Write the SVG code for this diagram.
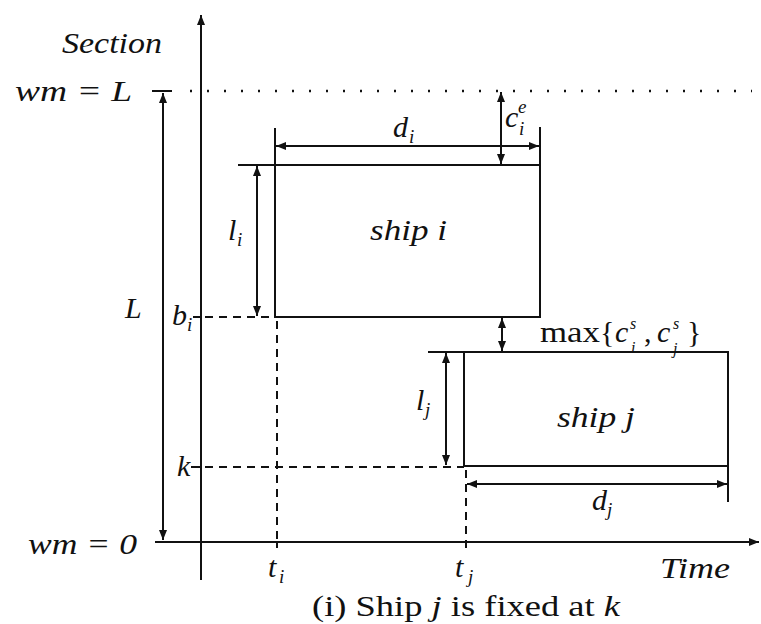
<svg xmlns="http://www.w3.org/2000/svg" width="761" height="624" viewBox="0 0 761 624">
<style>
  text { font-family: "Liberation Serif", "DejaVu Serif", serif; fill: #111; }
  .it { font-style: italic; font-size: 30px; }
  .up { font-size: 30px; }
  .sub { font-style: italic; font-size: 19px; }
  .ss { font-style: italic; font-size: 16px; }
  .ln { stroke: #111; stroke-width: 2; fill: none; }
  .dash { stroke: #111; stroke-width: 2; fill: none; stroke-dasharray: 8 6; }
  .dot { stroke: #111; stroke-width: 2.5; fill: none; stroke-dasharray: 2 15; }
  .arr { stroke: #111; stroke-width: 2; fill: none; marker-start: url(#ah); marker-end: url(#ah); }
  .arr1 { stroke: #111; stroke-width: 2; fill: none; marker-end: url(#ah); }
</style>
<defs>
  <marker id="ah" viewBox="0 0 10 8" refX="10" refY="4" markerWidth="10" markerHeight="8" markerUnits="userSpaceOnUse" orient="auto-start-reverse">
    <path d="M0,0 L10,4 L0,8 Z" fill="#111"/>
  </marker>
</defs>
<rect width="761" height="624" fill="#fff"/>

<g id="axes">
  <line class="arr1" x1="201" y1="580" x2="201" y2="15"/>
  <line class="arr1" x1="155" y1="542" x2="759" y2="542"/>
  <line class="ln" x1="152" y1="91" x2="172" y2="91"/>
  <line class="dot" x1="190" y1="91" x2="752" y2="91"/>
  <text class="it" x="62" y="53" textLength="100" lengthAdjust="spacingAndGlyphs">Section</text>
  <text class="it" x="660" y="578" textLength="70" lengthAdjust="spacingAndGlyphs">Time</text>
  <text class="it" x="15" y="101" textLength="117" lengthAdjust="spacingAndGlyphs">wm = L</text>
  <text class="it" x="28" y="554" textLength="109" lengthAdjust="spacingAndGlyphs">wm = 0</text>
  <text class="it" x="125" y="318">L</text>
</g>

<g id="ship-i">
  <rect class="ln" x="275" y="165" width="265" height="152"/>
  <text class="it" x="370" y="240" textLength="77" lengthAdjust="spacingAndGlyphs">ship i</text>
</g>

<g id="ship-j">
  <rect class="ln" x="464" y="352" width="264" height="114"/>
  <text class="it" x="557" y="427" textLength="78" lengthAdjust="spacingAndGlyphs">ship j</text>
</g>

<g id="connectors">
  <line class="ln" x1="238" y1="165" x2="275" y2="165"/>
  <line class="ln" x1="275" y1="128" x2="275" y2="165"/>
  <line class="ln" x1="540" y1="127" x2="540" y2="165"/>
  <line class="ln" x1="428" y1="352" x2="464" y2="352"/>
  <line class="ln" x1="728" y1="466" x2="728" y2="502"/>
  <line class="arr" x1="163" y1="93" x2="163" y2="540"/>
  <line class="arr" x1="276" y1="146" x2="539" y2="146"/>
  <line class="arr" x1="501" y1="92" x2="501" y2="164"/>
  <line class="arr" x1="257" y1="166" x2="257" y2="316"/>
  <line class="arr" x1="502" y1="318" x2="502" y2="351"/>
  <line class="arr" x1="446" y1="353" x2="446" y2="465"/>
  <line class="arr" x1="467" y1="484" x2="727" y2="484"/>
  <line class="ln" x1="193" y1="317" x2="201" y2="317"/>
  <line class="dash" x1="205" y1="317" x2="275" y2="317"/>
  <line class="dash" x1="277" y1="321" x2="277" y2="542"/>
  <line class="ln" x1="191" y1="467" x2="201" y2="467"/>
  <line class="dash" x1="205" y1="467" x2="464" y2="467"/>
  <line class="dash" x1="466" y1="470" x2="466" y2="542"/>
  <line class="ln" x1="277" y1="542" x2="277" y2="548"/>
  <line class="ln" x1="466" y1="542" x2="466" y2="548"/>
</g>

<g id="labels">
  <text class="it" x="393" y="137">d</text><text class="sub" x="409" y="143">i</text>
  <text class="it" x="505" y="127">c</text><text class="sub" x="518" y="113">e</text><text class="sub" x="519" y="135">i</text>
  <text class="it" x="228" y="240">l</text><text class="sub" x="237" y="246">i</text>
  <text class="it" x="172" y="325">b</text><text class="sub" x="187" y="331">i</text>
  <text class="up" x="540" y="342" textLength="60" lengthAdjust="spacingAndGlyphs">max</text>
  <text class="up" x="600" y="342">{</text>
  <text class="it" x="615" y="342">c</text><text class="ss" x="630" y="329">s</text><text class="ss" x="631" y="353">i</text>
  <text class="up" x="644" y="342">,</text>
  <text class="it" x="657" y="342">c</text><text class="ss" x="673" y="329">s</text><text class="ss" x="673" y="354">j</text>
  <text class="up" x="687" y="342">}</text>
  <text class="it" x="416" y="410">l</text><text class="sub" x="425" y="416">j</text>
  <text class="it" x="177" y="476">k</text>
  <text class="it" x="592" y="510">d</text><text class="sub" x="607" y="516">j</text>
  <text class="it" x="268" y="577">t</text><text class="sub" x="279" y="583">i</text>
  <text class="it" x="455" y="577">t</text><text class="sub" x="468" y="583">j</text>
  <text class="up" x="312" y="616" textLength="308" lengthAdjust="spacingAndGlyphs">(i) Ship <tspan font-style="italic">j</tspan> is fixed at <tspan font-style="italic">k</tspan></text>
</g>
</svg>
